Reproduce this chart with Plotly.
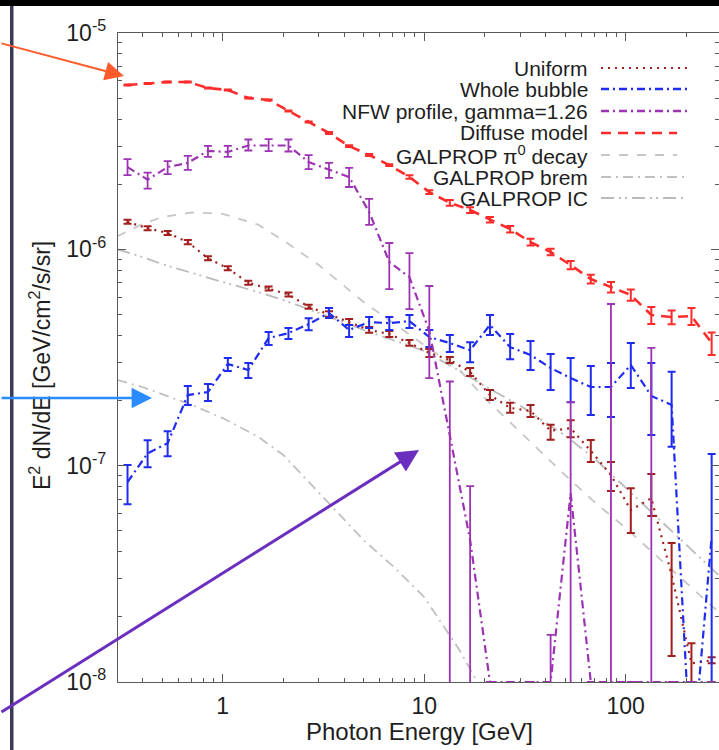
import plotly.graph_objects as go

# ---- data -----------------------------------------------------------------
# energy bin centres [GeV]
energy = [0.337, 0.424, 0.533, 0.671, 0.845, 1.06, 1.34, 1.69, 2.12, 2.67,
          3.37, 4.24, 5.33, 6.71, 8.45, 10.6, 13.4, 16.9, 21.2, 26.7,
          33.7, 42.4, 53.3, 67.1, 84.5, 106, 134, 169, 212, 267]

# E^2 dN/dE [GeV/cm^2/s/sr]
uniform = [1.34e-6, 1.25e-6, 1.19e-6, 1.08e-6, 9.09e-7, 8.17e-7, 7.01e-7, 6.60e-7, 6.18e-7, 5.43e-7,
           5.02e-7, 4.61e-7, 4.24e-7, 4.06e-7, 3.69e-7, 3.32e-7, 3.08e-7, 2.71e-7, 2.12e-7, 1.85e-7,
           1.79e-7, 1.45e-7, 1.49e-7, 1.17e-7, 9.05e-8, 6.23e-8, 7.08e-8, 3.12e-8, 1.22e-8, 1.26e-8]
uniform_err_hi = [2.9e-8, 2.7e-8, 2.6e-8, 2.3e-8, 2.0e-8, 1.8e-8, 1.5e-8, 1.4e-8, 1.3e-8, 1.2e-8,
                  1.6e-8, 1.5e-8, 1.4e-8, 1.3e-8, 1.2e-8, 1.4e-8, 1.0e-8, 1.2e-8, 1.17e-8, 1.02e-8,
                  1.18e-8, 0.96e-8, 1.33e-8, 1.45e-8, 1.35e-8, 1.64e-8, 2.06e-8, 1.27e-8, 0.29e-8, 0.04e-8]
uniform_err_lo = [2.8e-8, 2.6e-8, 2.5e-8, 2.3e-8, 1.9e-8, 1.7e-8, 1.5e-8, 1.4e-8, 1.3e-8, 1.1e-8,
                  1.6e-8, 1.4e-8, 1.3e-8, 1.3e-8, 1.1e-8, 1.4e-8, 0.95e-8, 1.1e-8, 1.10e-8, 0.96e-8,
                  1.11e-8, 1.32e-8, 1.36e-8, 1.30e-8, 1.42e-8, 1.35e-8, 1.23e-8, 1.80e-8, 1.22e-8, 0.04e-8]

whole_bubble = [8.40e-8, 1.14e-7, 1.27e-7, 2.12e-7, 2.19e-7, 2.95e-7, 2.77e-7, 3.89e-7, 4.10e-7, 4.51e-7,
                5.08e-7, 4.24e-7, 4.61e-7, 4.56e-7, 4.66e-7, 3.93e-7, 3.69e-7, 3.42e-7, 4.47e-7, 3.53e-7,
                3.25e-7, 2.83e-7, 2.54e-7, 2.31e-7, 2.31e-7, 2.92e-7, 2.10e-7, 1.91e-7, 3.9e-9, 4.68e-8]
whole_err_hi = [1.67e-8, 1.70e-8, 1.73e-8, 2.14e-8, 1.95e-8, 1.95e-8, 2.13e-8, 2.57e-8, 2.26e-8, 2.98e-8,
                2.79e-8, 2.33e-8, 2.54e-8, 3.01e-8, 3.08e-8, 3.03e-8, 3.28e-8, 3.04e-8, 5.01e-8, 5.26e-8,
                5.23e-8, 4.56e-8, 6.02e-8, 5.80e-8, 6.72e-8, 7.71e-8, 8.84e-8, 8.04e-8, 1.0e-9, 6.64e-8]
whole_err_lo = [1.76e-8, 1.58e-8, 1.64e-8, 2.14e-8, 1.99e-8, 2.12e-8, 2.27e-8, 2.80e-8, 2.54e-8, 2.80e-8,
                2.64e-8, 3.05e-8, 2.86e-8, 3.28e-8, 3.36e-8, 3.97e-8, 3.36e-8, 4.10e-8, 4.51e-8, 4.24e-8,
                4.81e-8, 5.91e-8, 5.74e-8, 5.96e-8, 6.33e-8, 6.34e-8, 7.14e-8, 6.88e-8, 1.0e-9, 4.68e-8]

nfw = [2.40e-6, 2.10e-6, 2.40e-6, 2.51e-6, 2.85e-6, 2.82e-6, 3.02e-6, 3.03e-6, 3.02e-6, 2.53e-6,
       2.33e-6, 2.16e-6, 1.49e-6, 8.74e-7, 7.44e-7, 4.19e-7, 1.38e-7, 4.53e-8, 1e-8, 1e-8,
       1e-8, 1e-8, 7.47e-8, 1e-8, 1e-8, 1e-8, 1e-8, 1e-8, 1e-8, 1e-8]
nfw_err_hi = [2.14e-7, 1.62e-7, 1.58e-7, 1.93e-7, 1.57e-7, 1.86e-7, 1.99e-7, 2.00e-7, 1.99e-7, 1.95e-7,
              1.79e-7, 2.18e-7, 2.22e-7, 1.96e-7, 2.17e-7, 2.58e-7, 1.07e-7, 3.52e-8, 0, 0,
              0, 6.5e-9, 1.22e-7, 0, 5.49e-7, 0, 3.40e-7, 0, 0, 0]
nfw_err_lo = [1.97e-7, 1.91e-7, 1.73e-7, 1.81e-7, 1.77e-7, 1.47e-7, 1.57e-7, 1.88e-7, 1.87e-7, 1.82e-7,
              1.91e-7, 2.18e-7, 1.92e-7, 2.19e-7, 2.15e-7, 1.65e-7, 1.38e-7, 4.53e-8, 0, 0,
              0, 1e-8, 7.47e-8, 0, 1e-8, 0, 1e-8, 0, 0, 0]

diffuse = [5.75e-6, 5.84e-6, 5.94e-6, 5.94e-6, 5.57e-6, 5.45e-6, 5.01e-6, 4.90e-6, 4.36e-6, 3.88e-6,
           3.45e-6, 3.00e-6, 2.73e-6, 2.45e-6, 2.16e-6, 1.84e-6, 1.64e-6, 1.52e-6, 1.37e-6, 1.24e-6,
           1.08e-6, 9.72e-7, 8.46e-7, 7.29e-7, 6.69e-7, 6.15e-7, 4.97e-7, 4.86e-7, 4.91e-7, 3.69e-7]
diffuse_err = [3e-8, 3e-8, 3e-8, 3e-8, 3e-8, 3e-8, 2.5e-8, 2.5e-8, 2.2e-8, 2e-8,
               3.5e-8, 3e-8, 2.7e-8, 2.5e-8, 4.3e-8, 3.7e-8, 4.9e-8, 4.6e-8, 4.1e-8, 4.3e-8,
               3.8e-8, 3.4e-8, 3.8e-8, 3.3e-8, 3.7e-8, 3.7e-8, 4.5e-8, 3.6e-8, 4.4e-8, 4.4e-8]

# GALPROP model components
gal_energy = [0.3, 0.4, 0.5, 0.7, 1, 1.5, 2, 3, 5, 7, 10, 15, 20, 30, 50, 70, 100, 150, 200, 300]
galprop_pi0 = [1.15e-6, 1.31e-6, 1.41e-6, 1.48e-6, 1.46e-6, 1.30e-6, 1.10e-6, 8.46e-7, 5.71e-7, 4.56e-7,
               3.61e-7, 2.77e-7, 2.05e-7, 1.43e-7, 9.05e-8, 6.79e-8, 5.15e-8, 3.66e-8, 2.87e-8, 2.04e-8]
galprop_ic = [1.00e-6, 9.21e-7, 8.55e-7, 7.77e-7, 7.06e-7, 6.35e-7, 5.83e-7, 5.08e-7, 4.24e-7, 3.81e-7,
              3.39e-7, 2.74e-7, 2.33e-7, 1.89e-7, 1.38e-7, 1.08e-7, 7.88e-8, 5.49e-8, 4.30e-8, 3.02e-8]
galprop_brem = [2.49e-7, 2.31e-7, 2.14e-7, 1.91e-7, 1.66e-7, 1.36e-7, 1.12e-7, 7.47e-8, 4.53e-8, 3.43e-8,
                2.47e-8, 1.40e-8, 8.7e-9, 4.4e-9]

legend_labels = ["Uniform", "Whole bubble", "NFW profile, gamma=1.26", "Diffuse model",
                 "GALPROP \u03c0<sup>0</sup> decay", "GALPROP brem", "GALPROP IC"]

x_ticks = [1, 10, 100]
y_ticks = [1e-8, 1e-7, 1e-6, 1e-5]
y_ticktext = ["10<sup>-8</sup>", "10<sup>-7</sup>", "10<sup>-6</sup>", "10<sup>-5</sup>"]

# ---- styles ----------------------------------------------------------------
C_UNI = "#a11f1f"
C_WHOLE = "#1f2cf0"
C_NFW = "#9c33b3"
C_DIFF = "#ff2b2b"
C_PI0 = "#c6c6c6"
C_BREM = "#c0c0c0"
C_IC = "#bababa"

D_UNI = "2px,5px"
D_DASHDOT = "8px,4px,2px,4px"
D_DIFF = "10px,7px"
D_PI0 = "9px,9px"
D_BREM = "10px,5px,2px,5px"
D_IC = "13px,5px,2px,4px,2px,5px"

FONT = "Liberation Sans, Arial, Helvetica, sans-serif"
TXT = "#1e1e1e"

fig = go.Figure()

def model_line(x, y, color, dash):
    fig.add_trace(go.Scatter(x=x, y=y, mode="lines",
                             line=dict(color=color, width=1.8, dash=dash),
                             showlegend=False, hoverinfo="skip"))

model_line(gal_energy, galprop_pi0, C_PI0, D_PI0)
model_line(gal_energy[:len(galprop_brem)], galprop_brem, C_BREM, D_BREM)
model_line(gal_energy, galprop_ic, C_IC, D_IC)

def data_line(y, hi, lo, color, dash, width=2.2, thick=2.0):
    fig.add_trace(go.Scatter(
        x=energy, y=y, mode="lines",
        line=dict(color=color, width=width, dash=dash),
        error_y=dict(type="data", symmetric=False, array=hi, arrayminus=lo,
                     color=color, thickness=thick, width=4),
        showlegend=False, hoverinfo="skip"))

data_line(diffuse, diffuse_err, diffuse_err, C_DIFF, D_DIFF, width=2.6)
data_line(uniform, uniform_err_hi, uniform_err_lo, C_UNI, D_UNI, width=2.2)
data_line(whole_bubble, whole_err_hi, whole_err_lo, C_WHOLE, D_DASHDOT, width=2.2)
data_line(nfw, nfw_err_hi, nfw_err_lo, C_NFW, D_DASHDOT, width=2.2, thick=1.8)

# ---- geometry (pixels) ---------------------------------------------------
W, H = 719, 750
L, R, T, B = 118, 0, 33, 68
PW, PH = W - L - R, H - T - B

def px(xp):
    return (xp - L) / PW

def py(yp):
    return (H - B - yp) / PH

# hand-made legend: right-aligned labels with line samples to the right
legend_rows = [68, 89, 111, 133, 155, 177, 198]
legend_styles = [(C_UNI, D_UNI, 2.2, 687), (C_WHOLE, D_DASHDOT, 2.4, 687),
                 (C_NFW, D_DASHDOT, 2.4, 687), (C_DIFF, D_DIFF, 2.6, 677),
                 (C_PI0, D_PI0, 2.0, 677), (C_BREM, D_BREM, 2.0, 687),
                 (C_IC, D_IC, 2.0, 687)]
annotations = []
shapes = []
for label, row, (col, dash, lw, xend) in zip(legend_labels, legend_rows, legend_styles):
    annotations.append(dict(xref="paper", yref="paper", x=px(590), y=py(row),
                            xanchor="right", yanchor="middle", text=label, showarrow=False,
                            font=dict(family=FONT, size=21, color=TXT)))
    shapes.append(dict(type="line", xref="paper", yref="paper",
                       x0=px(601), x1=px(xend), y0=py(row), y1=py(row),
                       line=dict(color=col, width=lw, dash=dash)))

# axis titles
annotations.append(dict(xref="paper", yref="paper", x=px(419), y=py(731),
                        text="Photon Energy [GeV]", showarrow=False,
                        xanchor="center", yanchor="middle",
                        font=dict(family=FONT, size=24, color=TXT)))
annotations.append(dict(xref="paper", yref="paper", x=px(40), y=py(366),
                        text="E<sup>2</sup> dN/dE [GeV/cm<sup>2</sup>/s/sr]", showarrow=False,
                        textangle=-90, xanchor="center", yanchor="middle",
                        font=dict(family=FONT, size=23, color=TXT)))

# pointer arrows
def arrow(tip, tail, color, width, size):
    annotations.append(dict(xref="paper", yref="paper", x=px(tip[0]), y=py(tip[1]),
                            ax=tail[0] - tip[0], ay=tail[1] - tip[1],
                            axref="pixel", ayref="pixel", text="", showarrow=True,
                            arrowhead=2, arrowsize=size, arrowwidth=width,
                            arrowcolor=color, standoff=0))

arrow((124, 76), (-2, 43), "#ff5a2a", 2.0, 1.9)
arrow((152, 398), (-2, 398), "#2a8cff", 2.4, 1.7)
arrow((419, 450), (-2, 713), "#6a2fbf", 3.0, 1.5)

# slide frame: dark band at the top and a dark rule on the left
shapes.append(dict(type="rect", xref="paper", yref="paper",
                   x0=px(-5), x1=px(W + 5), y0=py(6), y1=py(-5),
                   fillcolor="#000000", line=dict(width=0), layer="above"))
shapes.append(dict(type="rect", xref="paper", yref="paper",
                   x0=px(10), x1=px(13.5), y0=py(H + 5), y1=py(6),
                   fillcolor="#3a3a58", line=dict(width=0), layer="above"))

x_minor = [0.4, 0.5, 0.6, 0.7, 0.8, 0.9, 2, 3, 4, 5, 6, 7, 8, 9,
           20, 30, 40, 50, 60, 70, 80, 90, 200]
y_minor = [m * d for d in (1e-8, 1e-7, 1e-6) for m in (2, 3, 4, 5, 6, 7, 8, 9)]

axis_common = dict(showline=True, linecolor="#5a5a5a", linewidth=1.4, mirror="allticks",
                   ticks="inside", ticklen=8, tickwidth=1.2, tickcolor="#5a5a5a",
                   showgrid=False, zeroline=False,
                   tickfont=dict(family=FONT, size=23, color=TXT))

fig.update_layout(
    width=W, height=H, autosize=False,
    margin=dict(l=L, r=R, t=T, b=B, pad=0),
    paper_bgcolor="white", plot_bgcolor="white",
    showlegend=False,
    xaxis=dict(type="log", range=[-0.5196, 2.4630], tickmode="array",
               tickvals=x_ticks, ticktext=[str(v) for v in x_ticks],
               ticklabelstandoff=3,
               minor=dict(tickmode="array", tickvals=x_minor, ticks="inside",
                          ticklen=4, tickwidth=1.1, tickcolor="#5a5a5a", showgrid=False),
               **axis_common),
    yaxis=dict(type="log", range=[-8, -5], tickmode="array",
               tickvals=y_ticks, ticktext=y_ticktext, ticklabelstandoff=6,
               minor=dict(tickmode="array", tickvals=y_minor, ticks="inside",
                          ticklen=4, tickwidth=1.1, tickcolor="#5a5a5a", showgrid=False),
               **axis_common),
    annotations=annotations,
    shapes=shapes,
)

fig.write_html("out.html")
